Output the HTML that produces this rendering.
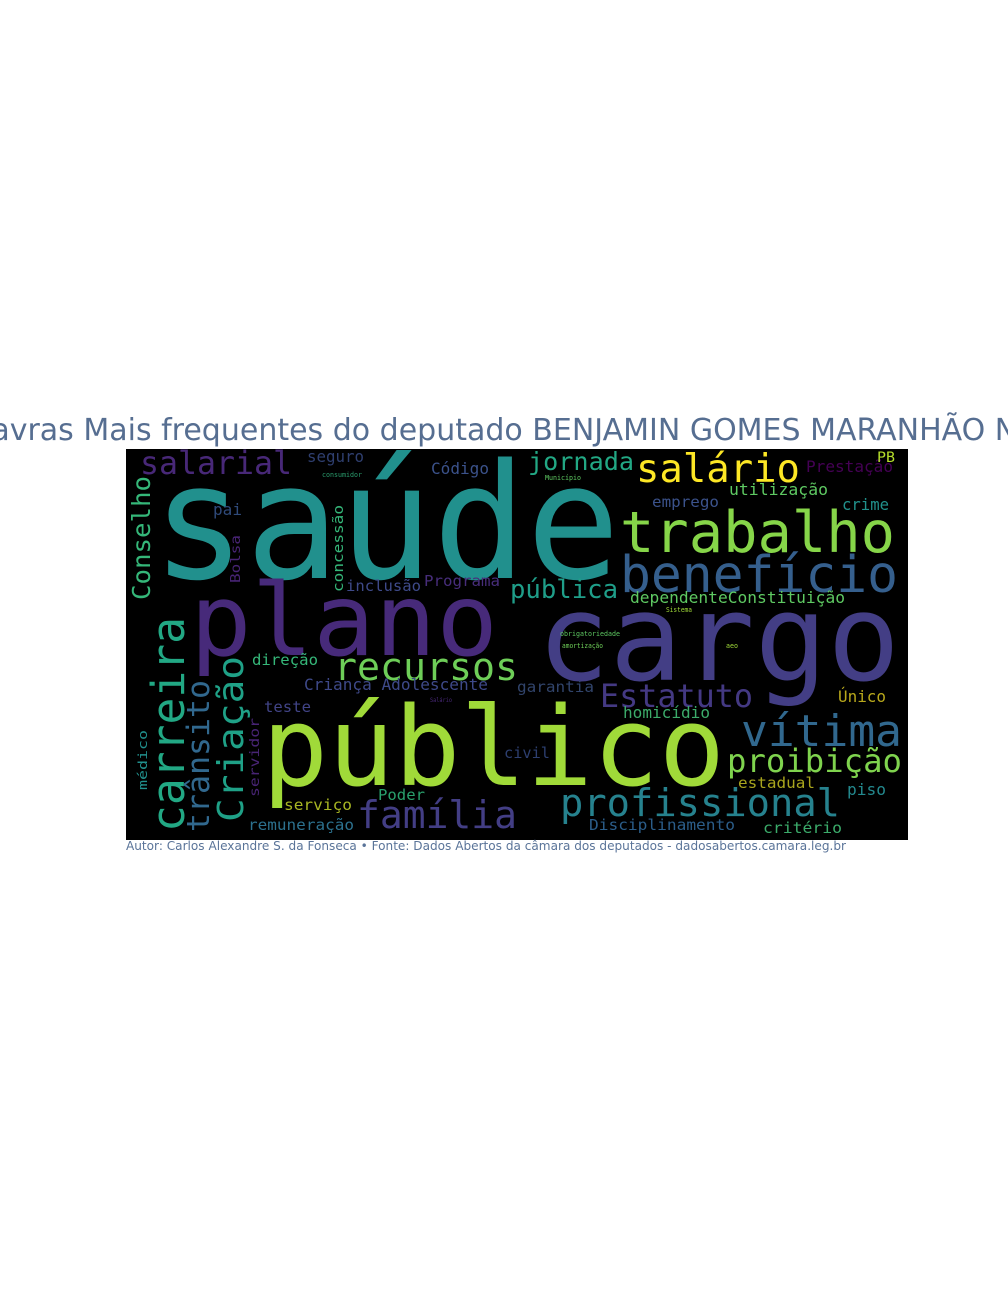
<!DOCTYPE html>
<html><head><meta charset="utf-8"><style>
html,body{margin:0;padding:0;background:#fff;width:1008px;height:1296px;overflow:hidden}
svg{display:block}
.w{font-family:"DejaVu Sans Mono","Liberation Mono",monospace}
</style></head><body>
<svg width="1008" height="1296" viewBox="0 0 1008 1296">
<text x="513" y="440" text-anchor="middle" font-family="DejaVu Sans, Liberation Sans, sans-serif" font-size="30" fill="#566e91">Palavras Mais frequentes do deputado BENJAMIN GOMES MARANHÃO NETO</text>
<g>
<rect x="126" y="449" width="782" height="391" fill="#000"/>
<clipPath id="cp"><rect x="126" y="449" width="782" height="391"/></clipPath>
<g clip-path="url(#cp)" class="w">
<text x="152" y="578" font-size="160" fill="#21908d" textLength="468" lengthAdjust="spacingAndGlyphs">saúde</text>
<text x="190" y="655" font-size="100" fill="#472a7a" textLength="308" lengthAdjust="spacingAndGlyphs">plano</text>
<text x="537" y="680" font-size="120" fill="#433e85" textLength="363" lengthAdjust="spacingAndGlyphs">cargo</text>
<text x="262" y="785" font-size="110" fill="#a0da39" textLength="463" lengthAdjust="spacingAndGlyphs">público</text>
<text x="620" y="552" font-size="57" fill="#86d549" textLength="275" lengthAdjust="spacingAndGlyphs">trabalho</text>
<text x="620" y="592" font-size="51" fill="#355f8d" textLength="278" lengthAdjust="spacingAndGlyphs">benefício</text>
<text x="636" y="482" font-size="39" fill="#fde725" textLength="164" lengthAdjust="spacingAndGlyphs">salário</text>
<text x="528" y="470" font-size="25" fill="#22a884" textLength="106" lengthAdjust="spacingAndGlyphs">jornada</text>
<text x="140" y="474" font-size="32" fill="#482878" textLength="152" lengthAdjust="spacingAndGlyphs">salarial</text>
<text x="307" y="462" font-size="16" fill="#2f3f70" textLength="57" lengthAdjust="spacingAndGlyphs">seguro</text>
<text x="431" y="474" font-size="16" fill="#3b528b" textLength="58" lengthAdjust="spacingAndGlyphs">Código</text>
<text x="213" y="515" font-size="16" fill="#2f4a7a" textLength="29" lengthAdjust="spacingAndGlyphs">pai</text>
<text x="346" y="591" font-size="15" fill="#3e4a89" textLength="75" lengthAdjust="spacingAndGlyphs">inclusão</text>
<text x="424" y="586" font-size="15" fill="#472d7b" textLength="76" lengthAdjust="spacingAndGlyphs">Programa</text>
<text x="510" y="598" font-size="26" fill="#1f9e89" textLength="108" lengthAdjust="spacingAndGlyphs">pública</text>
<text x="652" y="507" font-size="15" fill="#3b528b" textLength="67" lengthAdjust="spacingAndGlyphs">emprego</text>
<text x="729" y="495" font-size="16" fill="#5ec962" textLength="99" lengthAdjust="spacingAndGlyphs">utilização</text>
<text x="842" y="510" font-size="16" fill="#21918c" textLength="47" lengthAdjust="spacingAndGlyphs">crime</text>
<text x="806" y="472" font-size="16" fill="#440154" textLength="87" lengthAdjust="spacingAndGlyphs">Prestação</text>
<text x="877" y="462" font-size="14" fill="#b5de2b" textLength="18" lengthAdjust="spacingAndGlyphs">PB</text>
<text x="630" y="603" font-size="16" fill="#5ec962" textLength="215" lengthAdjust="spacingAndGlyphs">dependenteConstituição</text>
<text x="322" y="477" font-size="7" fill="#2a9d6d" textLength="40" lengthAdjust="spacingAndGlyphs">consumidor</text>
<text x="545" y="480" font-size="7" fill="#5ec962" textLength="36" lengthAdjust="spacingAndGlyphs">Município</text>
<text x="666" y="612" font-size="7" fill="#a0da39" textLength="26" lengthAdjust="spacingAndGlyphs">Sistema</text>
<text x="560" y="636" font-size="7" fill="#5ec962" textLength="60" lengthAdjust="spacingAndGlyphs">obrigatoriedade</text>
<text x="562" y="648" font-size="7" fill="#6ece58" textLength="41" lengthAdjust="spacingAndGlyphs">amortização</text>
<text x="726" y="648" font-size="7" fill="#a0da39" textLength="12" lengthAdjust="spacingAndGlyphs">aeo</text>
<text x="430" y="702" font-size="6" fill="#482878" textLength="22" lengthAdjust="spacingAndGlyphs">Salário</text>
<text x="252" y="665" font-size="15" fill="#35b779" textLength="66" lengthAdjust="spacingAndGlyphs">direção</text>
<text x="334" y="680" font-size="38" fill="#6ece58" textLength="184" lengthAdjust="spacingAndGlyphs">recursos</text>
<text x="304" y="690" font-size="16" fill="#3e4989" textLength="184" lengthAdjust="spacingAndGlyphs">Criança Adolescente</text>
<text x="264" y="712" font-size="15" fill="#414487" textLength="47" lengthAdjust="spacingAndGlyphs">teste</text>
<text x="517" y="692" font-size="15" fill="#31446b" textLength="77" lengthAdjust="spacingAndGlyphs">garantia</text>
<text x="600" y="707" font-size="32" fill="#443983" textLength="153" lengthAdjust="spacingAndGlyphs">Estatuto</text>
<text x="838" y="702" font-size="16" fill="#b8a81b" textLength="48" lengthAdjust="spacingAndGlyphs">Único</text>
<text x="623" y="718" font-size="16" fill="#3cab6a" textLength="87" lengthAdjust="spacingAndGlyphs">homicídio</text>
<text x="741" y="746" font-size="44" fill="#31688e" textLength="161" lengthAdjust="spacingAndGlyphs">vítima</text>
<text x="504" y="758" font-size="15" fill="#2d3f70" textLength="46" lengthAdjust="spacingAndGlyphs">civil</text>
<text x="727" y="772" font-size="32" fill="#7fd34e" textLength="175" lengthAdjust="spacingAndGlyphs">proibição</text>
<text x="738" y="788" font-size="15" fill="#a8a41d" textLength="77" lengthAdjust="spacingAndGlyphs">estadual</text>
<text x="847" y="795" font-size="16" fill="#23898e" textLength="39" lengthAdjust="spacingAndGlyphs">piso</text>
<text x="560" y="816" font-size="38" fill="#26828e" textLength="280" lengthAdjust="spacingAndGlyphs">profissional</text>
<text x="357" y="828" font-size="38" fill="#433e85" textLength="160" lengthAdjust="spacingAndGlyphs">família</text>
<text x="284" y="810" font-size="15" fill="#a8b623" textLength="68" lengthAdjust="spacingAndGlyphs">serviço</text>
<text x="378" y="800" font-size="15" fill="#29a06c" textLength="47" lengthAdjust="spacingAndGlyphs">Poder</text>
<text x="248" y="830" font-size="15" fill="#2c718e" textLength="106" lengthAdjust="spacingAndGlyphs">remuneração</text>
<text x="589" y="830" font-size="15" fill="#2b5d89" textLength="146" lengthAdjust="spacingAndGlyphs">Disciplinamento</text>
<text x="763" y="833" font-size="15" fill="#3bab6a" textLength="79" lengthAdjust="spacingAndGlyphs">critério</text>
<text transform="translate(150,600) rotate(-90)" font-size="25" fill="#35b779" textLength="124" lengthAdjust="spacingAndGlyphs">Conselho</text>
<text transform="translate(240,583) rotate(-90)" font-size="13" fill="#482475" textLength="48" lengthAdjust="spacingAndGlyphs">Bolsa</text>
<text transform="translate(343,592) rotate(-90)" font-size="14" fill="#35b779" textLength="87" lengthAdjust="spacingAndGlyphs">concessão</text>
<text transform="translate(184,832) rotate(-90)" font-size="45" fill="#22a884" textLength="215" lengthAdjust="spacingAndGlyphs">carreira</text>
<text transform="translate(243,822) rotate(-90)" font-size="36" fill="#1fa187" textLength="166" lengthAdjust="spacingAndGlyphs">Criação</text>
<text transform="translate(209,832) rotate(-90)" font-size="31" fill="#31688e" textLength="152" lengthAdjust="spacingAndGlyphs">trânsito</text>
<text transform="translate(259,797) rotate(-90)" font-size="13.5" fill="#482475" textLength="79" lengthAdjust="spacingAndGlyphs">servidor</text>
<text transform="translate(147,790) rotate(-90)" font-size="12" fill="#21908d" textLength="60" lengthAdjust="spacingAndGlyphs">médico</text>
</g>
</g>
<text x="126" y="850" font-family="DejaVu Sans, Liberation Sans, sans-serif" font-size="12" fill="#5a7499" textLength="720" lengthAdjust="spacingAndGlyphs">Autor: Carlos Alexandre S. da Fonseca • Fonte: Dados Abertos da câmara dos deputados - dadosabertos.camara.leg.br</text>
</svg>
</body></html>
